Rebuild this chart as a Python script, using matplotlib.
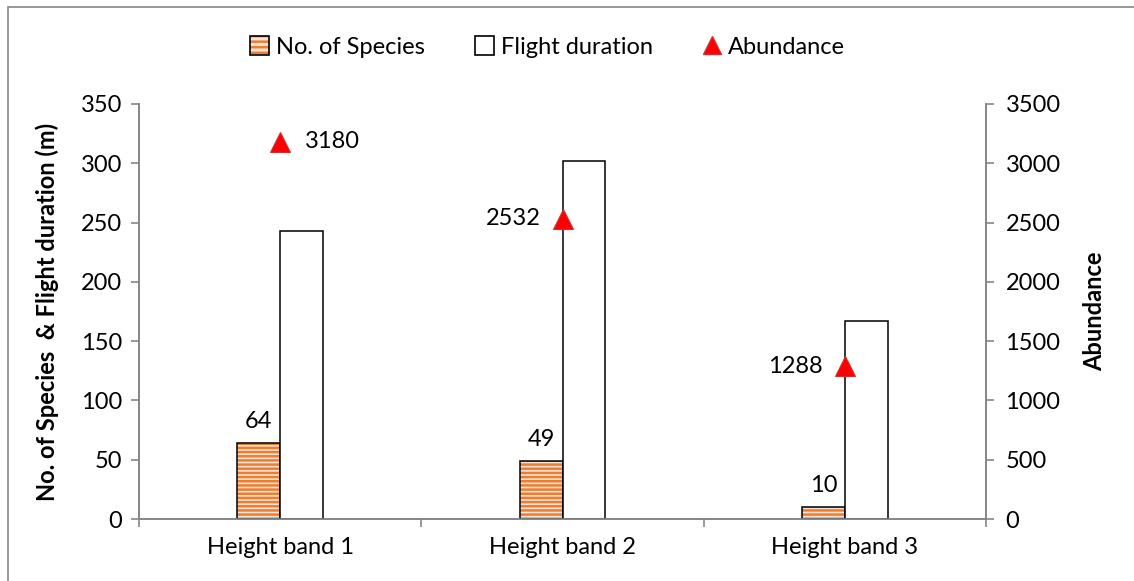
import matplotlib.pyplot as plt
from matplotlib.patches import Rectangle
from matplotlib.lines import Line2D
import numpy as np

# chart data
bands = ['Height band 1', 'Height band 2', 'Height band 3']
species = [64, 49, 10]
flight = [243, 302, 167]
abundance = [3180, 2532, 1288]

plt.rcParams['font.family'] = ['Lato', 'DejaVu Sans']
plt.rcParams['hatch.linewidth'] = 1.8

GRAY = '#868686'
ORANGE = '#ED7D31'
LIGHT = '#FBE3D3'
FS = 17

fig = plt.figure(figsize=(11.34, 5.81), dpi=100)
ax = fig.add_axes([0.1226, 0.1067, 0.7469, 0.7143])
ax2 = ax.twinx()

x = np.arange(len(bands))
w = 0.152

# species bars: hatched fill, then black outline on top
ax.bar(x - w / 2, species, w, facecolor=LIGHT, edgecolor=ORANGE,
       linewidth=0, hatch='----', zorder=2)
ax.bar(x - w / 2, species, w, facecolor='none', edgecolor='black',
       linewidth=1.1, zorder=3)
ax.bar(x + w / 2, flight, w, facecolor='white', edgecolor='black',
       linewidth=1.1, zorder=3)

for xi, v in zip(x, species):
    ax.annotate(str(v), (xi - w / 2, v), xytext=(0, 8), textcoords='offset points',
                ha='center', va='bottom', fontsize=FS)

# abundance markers on the right axis
ax2.plot(x, abundance, linestyle='none', marker='^', ms=15,
         markerfacecolor='#FF0000', markeredgecolor='#D03030', markeredgewidth=0.8,
         zorder=5)
for i, (xi, v) in enumerate(zip(x, abundance)):
    if i == 0:
        ax2.annotate(str(v), (xi, v), xytext=(18, 0), textcoords='offset points',
                     ha='left', va='center', fontsize=FS)
    else:
        ax2.annotate(str(v), (xi, v), xytext=(-16, 0), textcoords='offset points',
                     ha='right', va='center', fontsize=FS)

ax.set_xlim(-0.5, len(bands) - 0.5)
ax.set_ylim(0, 350)
ax.set_yticks(np.arange(0, 351, 50))
ax2.set_ylim(0, 3500)
ax2.set_yticks(np.arange(0, 3501, 500))

ax.set_xticks(x)
ax.set_xticklabels(bands, fontsize=FS)
ax.set_xticks(np.arange(-0.5, len(bands), 1), minor=True)
ax.tick_params(axis='x', which='major', length=0, pad=13)
ax.tick_params(axis='x', which='minor', length=6, color=GRAY, width=1.2, direction='out')
ax.tick_params(axis='y', labelsize=FS, length=6, color=GRAY, width=1.2, pad=6)
ax2.tick_params(axis='y', labelsize=FS, length=6, color=GRAY, width=1.2, pad=8)

for a in (ax, ax2):
    a.spines['top'].set_visible(False)
    for s in ('left', 'right', 'bottom'):
        a.spines[s].set_color(GRAY)
        a.spines[s].set_linewidth(1.2)

ax.set_ylabel('No. of Species  & Flight duration (m)', fontsize=FS, fontweight='bold', labelpad=16)
ax2.set_ylabel('Abundance', fontsize=FS, fontweight='bold', labelpad=16)

species_handle = (
    Rectangle((0, 0), 1, 1, facecolor=LIGHT, edgecolor=ORANGE, hatch='---', linewidth=0),
    Rectangle((0, 0), 1, 1, facecolor='none', edgecolor='black', linewidth=1.2),
)
handles = [
    species_handle,
    Rectangle((0, 0), 1, 1, facecolor='white', edgecolor='black', linewidth=1.2),
    Line2D([], [], linestyle='none', marker='^', ms=13, markerfacecolor='#FF0000',
           markeredgecolor='#D03030'),
]
fig.legend(handles, ['No. of Species', 'Flight duration', 'Abundance'],
           loc='center', bbox_to_anchor=(0.483, 0.919), ncol=3, frameon=False,
           fontsize=FS, handlelength=0.8, handleheight=0.8, handletextpad=0.3,
           columnspacing=2.1)

# outer chart border
fig.patches.append(Rectangle((8 / 1134, -0.1), 1.2, 1 - 7 / 581 + 0.1,
                             transform=fig.transFigure, fill=False,
                             edgecolor=GRAY, linewidth=1.2))

fig.savefig('out.png', dpi=100)
